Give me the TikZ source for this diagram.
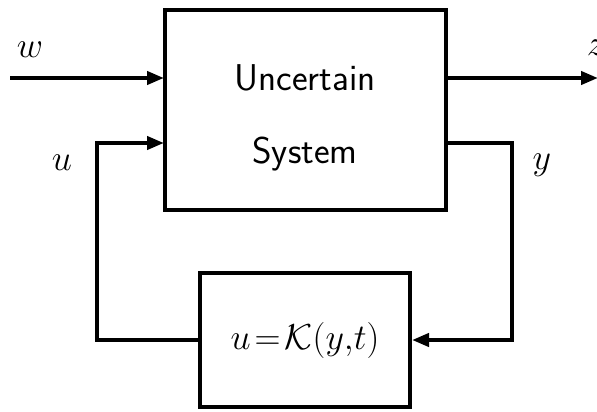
\documentclass[tikz,border=0pt]{standalone}
\usetikzlibrary{arrows.meta}
\begin{document}
\begin{tikzpicture}[x=1pt,y=-1pt,
  blk/.style={draw,line width=4pt,inner sep=0pt},
  wire/.style={line width=4pt},
  arr/.style={wire,-{Triangle[length=17pt,width=13pt]}},
  lbl/.style={font=\Huge,scale=1.45},
  stxt/.style={font=\sffamily\Huge,scale=1.5}]
\useasboundingbox (0,0) rectangle (597,412);
\node[blk,minimum width=281pt,minimum height=200pt] (sys) at (305,110) {};
\node[stxt] (t1) at (305,78) {Uncertain};
\node[stxt] (t2) at (305,154) {System};
\node[blk,minimum width=210pt,minimum height=134pt] (k) at (305,340) {};
\node[lbl] (kt) at (k.center) {$u\!=\!\mathcal{K}(y{,}t)$};
\coordinate (win) at (10,78);
\coordinate (wx) at (164,78);
\coordinate (zx) at (446,78);
\coordinate (zout) at (598,78);
\coordinate (ux) at (164,143);
\coordinate (yx) at (446,143);
\coordinate (yc) at (512,143);
\coordinate (uc) at (97,143);
\draw[arr] (win) -- (wx);
\draw[arr] (zx) -- (zout);
\draw[arr] (yx) -- (yc) |- (k.east);
\draw[arr] (k.west) -| (uc) -- (ux);
\node[lbl] (lw) at (30,50) {$w$};
\node[lbl] (lz) at (596,48) {$z$};
\node[lbl] (lu) at (62,163) {$u$};
\node[lbl] (ly) at (542,165) {$y$};
\end{tikzpicture}
\end{document}
